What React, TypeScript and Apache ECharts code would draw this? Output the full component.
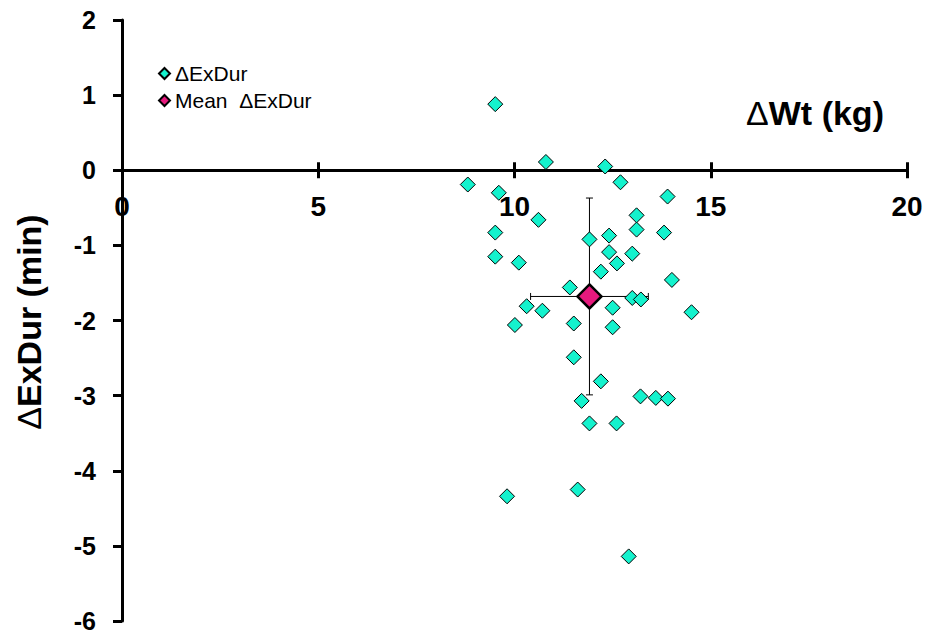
import React, { useEffect, useRef } from "react";
import * as echarts from "echarts";

// Change in body weight (kg) for each participant
const weightChange: number[] = [
  9.51, 10.8, 12.31, 8.81, 9.6, 12.7, 13.9, 10.61, 13.11, 9.51, 13.11, 13.81,
  11.91, 12.41, 12.41, 13.0, 9.51, 10.11, 12.61, 12.2, 14.01, 11.41, 13.0, 13.22,
  10.31, 10.71, 12.5, 14.51, 10.01, 11.51, 12.5, 11.51, 12.2, 11.71, 13.21, 13.6,
  13.91, 11.91, 12.6, 9.81, 11.61, 12.91,
];

// Change in exercise duration (min) for each participant
const exDurChange: number[] = [
  0.88, 0.11, 0.05, -0.19, -0.3, -0.16, -0.35, -0.66, -0.6, -0.83, -0.79, -0.83,
  -0.92, -0.87, -1.09, -1.11, -1.15, -1.23, -1.24, -1.35, -1.46, -1.56, -1.7, -1.72,
  -1.81, -1.87, -1.83, -1.89, -2.06, -2.04, -2.09, -2.49, -2.81, -3.07, -3.01, -3.03,
  -3.04, -3.37, -3.37, -4.34, -4.25, -5.14,
];

// Tick values of the weight axis, labelled just under the y = 0 line
const weightTicks: number[] = [0, 5, 10, 15, 20];

// Group mean with standard deviations
const meanWt = 11.91;
const meanExDur = -1.68;
const sdWt = 1.5;
const sdExDur = 1.31;

const seriesNames = ["\u0394ExDur", "Mean  \u0394ExDur"];

const FONT = "'Liberation Sans', Arial, Helvetica, sans-serif";
const TEAL = "#14F2CD";
const PINK = "#E6197D";

export default function App() {
  const ref = useRef<HTMLDivElement>(null);

  useEffect(() => {
    if (!ref.current) return;
    const chart = echarts.init(ref.current, undefined, { renderer: "svg" });

    const points = weightChange.map((w, i) => [w, exDurChange[i]]);

    // Both x axes sit on y = 0; one carries the downward ticks,
    // the other the upward ticks, so the ticks cross the axis line.
    const xAxisBase = {
      type: "value" as const,
      min: 0,
      max: 20,
      interval: 5,
      position: "bottom" as const,
      splitLine: { show: false },
      axisLabel: { show: false },
      axisLine: {
        show: true,
        onZero: true,
        onZeroAxisIndex: 0,
        lineStyle: { color: "#000", width: 3 },
      },
    };

    const titleRich = {
      d: { fontSize: 34, fontWeight: "normal", fontFamily: FONT, fill: "#000" },
      b: { fontSize: 34, fontWeight: "bold", fontFamily: FONT, fill: "#000" },
    };

    chart.setOption({
      animation: false,
      backgroundColor: "#fff",
      grid: {
        left: 122,
        right: 22,
        top: 20,
        bottom: 14,
        containLabel: false,
        outerBoundsMode: "none",
      },
      xAxis: [
        {
          ...xAxisBase,
          axisTick: { show: true, length: 8, lineStyle: { color: "#000", width: 3 } },
        },
        {
          ...xAxisBase,
          axisTick: { show: true, inside: true, length: 8, lineStyle: { color: "#000", width: 3 } },
        },
      ],
      yAxis: {
        type: "value",
        min: -6,
        max: 2,
        interval: 1,
        splitLine: { show: false },
        axisLine: { show: true, onZero: false, lineStyle: { color: "#000", width: 3 } },
        axisTick: { show: true, length: 9, lineStyle: { color: "#000", width: 3 } },
        axisLabel: {
          margin: 26,
          color: "#000",
          fontSize: 25,
          fontWeight: "bold",
          fontFamily: FONT,
        },
      },
      legend: {
        data: seriesNames,
        orient: "vertical",
        left: 158,
        top: 63,
        padding: 0,
        itemWidth: 11,
        itemHeight: 11,
        itemGap: 6,
        textStyle: { fontSize: 21, color: "#000", fontFamily: FONT },
      },
      graphic: [
        {
          type: "text",
          x: 815,
          y: 113,
          style: {
            text: "{d|\u0394}{b|Wt (kg)}",
            rich: titleRich,
            align: "center",
            verticalAlign: "middle",
            textAlign: "center",
            textVerticalAlign: "middle",
          },
        },
        {
          type: "text",
          x: 29,
          y: 322,
          rotation: Math.PI / 2,
          style: {
            text: "{d|\u0394}{b|ExDur (min)}",
            rich: titleRich,
            align: "center",
            verticalAlign: "middle",
            textAlign: "center",
            textVerticalAlign: "middle",
          },
        },
      ],
      series: [
        {
          // x tick labels hung below the zero line
          type: "custom",
          name: "ticks",
          xAxisIndex: 0,
          z: 0,
          silent: true,
          data: weightTicks.map((t) => [t, 0]),
          renderItem: (_params: any, api: any) => {
            const p = api.coord([api.value(0), api.value(1)]);
            return {
              type: "text",
              x: p[0],
              y: p[1] + 22,
              style: {
                text: String(api.value(0)),
                fill: "#000",
                font: `bold 28px ${FONT}`,
                align: "center",
                verticalAlign: "top",
                textAlign: "center",
                textVerticalAlign: "top",
              },
            };
          },
        },
        {
          type: "custom",
          name: "sd",
          xAxisIndex: 0,
          z: 1,
          silent: true,
          data: [[meanWt, meanExDur, sdWt, sdExDur]],
          renderItem: (_params: any, api: any) => {
            const mx = api.value(0);
            const my = api.value(1);
            const sx = api.value(2);
            const sy = api.value(3);
            const left = api.coord([mx - sx, my]);
            const right = api.coord([mx + sx, my]);
            const top = api.coord([mx, my + sy]);
            const bottom = api.coord([mx, my - sy]);
            const cap = 3.5;
            const st = { stroke: "#000", lineWidth: 1 };
            const line = (x1: number, y1: number, x2: number, y2: number) => ({
              type: "line",
              shape: { x1, y1, x2, y2 },
              style: st,
            });
            return {
              type: "group",
              children: [
                line(left[0], left[1], right[0], right[1]),
                line(top[0], top[1], bottom[0], bottom[1]),
                line(left[0], left[1] - cap, left[0], left[1] + cap),
                line(right[0], right[1] - cap, right[0], right[1] + cap),
                line(top[0] - cap, top[1], top[0] + cap, top[1]),
                line(bottom[0] - cap, bottom[1], bottom[0] + cap, bottom[1]),
              ],
            };
          },
        },
        {
          type: "scatter",
          name: seriesNames[0],
          xAxisIndex: 0,
          z: 3,
          symbol: "diamond",
          symbolSize: 15,
          itemStyle: { color: TEAL, borderColor: "#000", borderWidth: 1, opacity: 1 },
          data: points,
        },
        {
          type: "scatter",
          name: seriesNames[1],
          xAxisIndex: 0,
          z: 4,
          symbol: "diamond",
          symbolSize: 24,
          itemStyle: { color: PINK, borderColor: "#000", borderWidth: 2.5, opacity: 1 },
          data: [[meanWt, meanExDur]],
        },
      ],
    });

    return () => chart.dispose();
  }, []);

  return (
    <div
      ref={ref}
      style={{ position: "fixed", left: 0, top: 0, width: 929, height: 635, background: "#fff" }}
    />
  );
}
